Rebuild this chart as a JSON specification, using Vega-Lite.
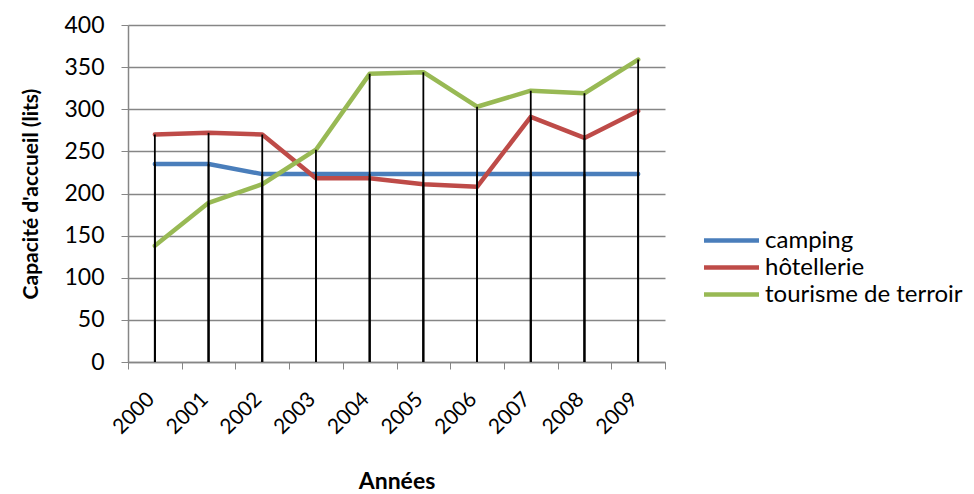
{
  "$schema": "https://vega.github.io/schema/vega-lite/v6.json",
  "autosize": "none",
  "width": 537,
  "height": 337,
  "padding": {"left": 128, "top": 25, "right": 309, "bottom": 132},
  "background": "white",
  "config": {
    "view": {"stroke": null},
    "font": "Lato",
    "axis": {"labelFont": "Lato", "titleFont": "Lato", "labelColor": "#000", "titleColor": "#000"}
  },
  "data": {
    "values": [
      {"annee": "2000", "serie": "camping", "lits": 235},
      {"annee": "2001", "serie": "camping", "lits": 235},
      {"annee": "2002", "serie": "camping", "lits": 223},
      {"annee": "2003", "serie": "camping", "lits": 223},
      {"annee": "2004", "serie": "camping", "lits": 223},
      {"annee": "2005", "serie": "camping", "lits": 223},
      {"annee": "2006", "serie": "camping", "lits": 223},
      {"annee": "2007", "serie": "camping", "lits": 223},
      {"annee": "2008", "serie": "camping", "lits": 223},
      {"annee": "2009", "serie": "camping", "lits": 223},
      {"annee": "2000", "serie": "hôtellerie", "lits": 270},
      {"annee": "2001", "serie": "hôtellerie", "lits": 272},
      {"annee": "2002", "serie": "hôtellerie", "lits": 270},
      {"annee": "2003", "serie": "hôtellerie", "lits": 218},
      {"annee": "2004", "serie": "hôtellerie", "lits": 218},
      {"annee": "2005", "serie": "hôtellerie", "lits": 211},
      {"annee": "2006", "serie": "hôtellerie", "lits": 208},
      {"annee": "2007", "serie": "hôtellerie", "lits": 291},
      {"annee": "2008", "serie": "hôtellerie", "lits": 266},
      {"annee": "2009", "serie": "hôtellerie", "lits": 298},
      {"annee": "2000", "serie": "tourisme de terroir", "lits": 138},
      {"annee": "2001", "serie": "tourisme de terroir", "lits": 189},
      {"annee": "2002", "serie": "tourisme de terroir", "lits": 211},
      {"annee": "2003", "serie": "tourisme de terroir", "lits": 252},
      {"annee": "2004", "serie": "tourisme de terroir", "lits": 342},
      {"annee": "2005", "serie": "tourisme de terroir", "lits": 344},
      {"annee": "2006", "serie": "tourisme de terroir", "lits": 303},
      {"annee": "2007", "serie": "tourisme de terroir", "lits": 322},
      {"annee": "2008", "serie": "tourisme de terroir", "lits": 319},
      {"annee": "2009", "serie": "tourisme de terroir", "lits": 359}
    ]
  },
  "encoding": {
    "x": {
      "field": "annee", "type": "nominal",
      "scale": {"paddingInner": 0, "paddingOuter": 0},
      "axis": {
        "title": "Années", "titleFontSize": 23, "titleFontWeight": "bold", "titleY": 119, "titleBaseline": "middle",
        "labelAngle": -45, "labelAlign": "right", "labelBaseline": "middle", "labelFontSize": 21,
        "labelPadding": 27, "labelOffset": -4,
        "tickBand": "extent", "tickColor": "#868686", "tickSize": 7, "domainColor": "#868686", "domainWidth": 1.5,
        "grid": false
      }
    },
    "y": {
      "field": "lits", "type": "quantitative",
      "scale": {"domain": [0, 400], "nice": false},
      "axis": {
        "title": "Capacité d'accueil (lits)", "titleFontSize": 21, "titleFontWeight": "bold", "titlePadding": 22,
        "values": [0, 50, 100, 150, 200, 250, 300, 350, 400],
        "labelFontSize": 23, "labelPadding": 17,
        "tickColor": "#868686", "tickSize": 7, "domainColor": "#868686", "domainWidth": 1.5,
        "grid": true, "gridColor": "#868686", "gridWidth": 1.5
      }
    }
  },
  "layer": [
    {
      "mark": {"type": "line", "strokeWidth": 4.5, "strokeCap": "round", "strokeJoin": "round"},
      "encoding": {
        "color": {
          "field": "serie", "type": "nominal",
          "scale": {"domain": ["camping", "hôtellerie", "tourisme de terroir"], "range": ["#4A7EBB", "#BE4B48", "#98B954"]},
          "legend": {
            "title": null, "orient": "none", "legendX": 590, "legendY": 202,
            "symbolType": "M-2.5,0H2.5", "symbolSize": 484, "symbolStrokeWidth": 4.5,
            "labelFontSize": 24, "labelFont": "Lato", "labelColor": "#000", "labelOffset": 20, "labelLimit": 0, "rowPadding": 1
          }
        }
      }
    },
    {
      "mark": {"type": "rule", "color": "black", "strokeWidth": 1.8},
      "encoding": {"y2": {"datum": 0}}
    }
  ]
}
